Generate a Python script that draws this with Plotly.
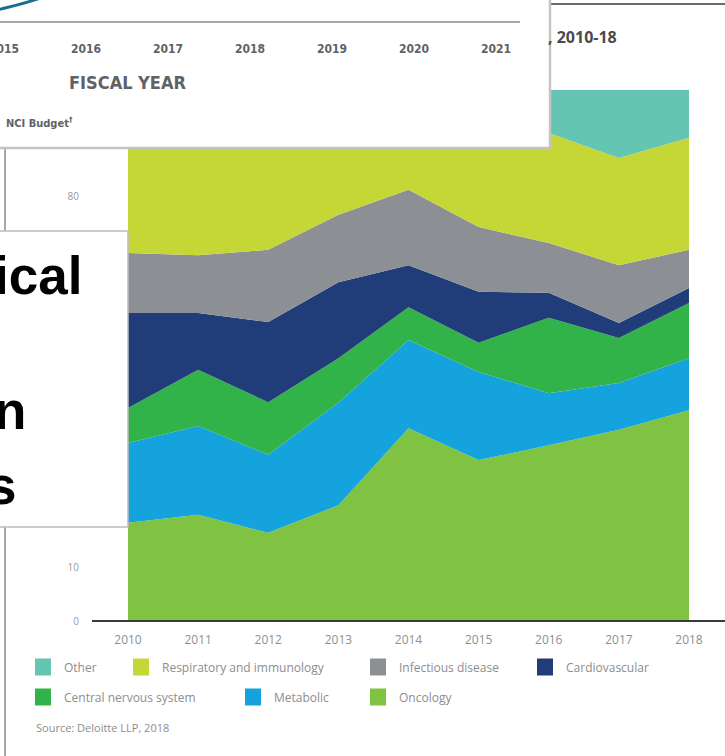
import plotly.graph_objects as go

W, H = 725, 756

years = [2010, 2011, 2012, 2013, 2014, 2015, 2016, 2017, 2018]
series_names = ["Oncology", "Metabolic", "Central nervous system", "Cardiovascular",
                "Infectious disease", "Respiratory and immunology", "Other"]
series_colors = ["#80c242", "#14a3dc", "#32b34a", "#203d79", "#8c8f93", "#c5d737", "#63c5b2"]
oncology = [18.5, 20.0, 16.6, 21.8, 36.3, 30.3, 33.1, 36.0, 39.7]
metabolic = [15.0, 16.7, 14.7, 19.3, 16.6, 16.6, 9.8, 8.8, 9.8]
cns = [6.6, 10.6, 9.9, 8.4, 6.2, 5.5, 14.2, 8.5, 10.4]
cardiovascular = [17.9, 10.7, 15.1, 14.3, 7.9, 9.6, 4.7, 2.8, 2.8]
infectious = [11.3, 10.9, 13.6, 12.7, 14.2, 12.2, 9.4, 10.9, 7.2]
respiratory = [22.7, 23.6, 22.1, 16.5, 11.3, 17.8, 20.7, 20.2, 21.1]
other = [8.0, 7.5, 8.0, 7.0, 7.5, 8.0, 8.1, 12.8, 9.0]
series_values = [oncology, metabolic, cns, cardiovascular, infectious, respiratory, other]

# legend order as in the picture
legend_rows = [["Other", "Respiratory and immunology", "Infectious disease", "Cardiovascular"],
               ["Central nervous system", "Metabolic", "Oncology"]]

# inset (overlapping fiscal-year chart)
fiscal_years = [2015, 2016, 2017, 2018, 2019, 2020, 2021]
nci_years = [2014, 2015, 2016, 2017]
nci_budget = [4.80, 4.91, 5.21, 5.69]

title_tail = ", 2010-18"
source_text = "Source: Deloitte LLP, 2018"
box_lines = ["ical", "n", "s"]

COND = "DejaVu Sans Condensed, Roboto Condensed, Roboto, sans-serif"


def px(x):
    return x / W


def py(y):
    return 1 - y / H


fig = go.Figure()
for name, vals, col in zip(series_names, series_values, series_colors):
    fig.add_trace(go.Scatter(x=years, y=vals, name=name, stackgroup="one", mode="none",
                             fillcolor=col, line=dict(width=0), showlegend=False,
                             xaxis="x", yaxis="y"))

fig.add_trace(go.Scatter(x=nci_years, y=nci_budget, mode="lines", line=dict(color="#1b6f8c", width=3, shape="spline"),
                         showlegend=False, xaxis="x2", yaxis="y2"))

x2_range = [2016 - 86 / 82, 2016 + (550 - 86) / 82]
y2_range = [3.4, 5.0]

shapes = []
# main chart frame lines
shapes.append(dict(type="line", xref="paper", yref="paper", x0=px(5), x1=px(5), y0=py(148), y1=py(756),
                   line=dict(color="#8a8a8a", width=1.5), layer="below"))
shapes.append(dict(type="line", xref="paper", yref="paper", x0=px(550), x1=px(725), y0=py(4), y1=py(4),
                   line=dict(color="#6a6a6a", width=2), layer="below"))
# inset white panel (drawn in inset subplot, above main chart)
shapes.append(dict(type="rect", xref="x2", yref="y2", x0=x2_range[0], x1=x2_range[1], y0=y2_range[0], y1=y2_range[1],
                   fillcolor="white", line=dict(width=0), layer="below"))
# inset borders and axis line
shapes.append(dict(type="line", xref="paper", yref="paper", x0=px(550), x1=px(550), y0=py(0), y1=py(148),
                   line=dict(color="#c4c4c4", width=2.5), layer="above"))
shapes.append(dict(type="line", xref="paper", yref="paper", x0=px(0), x1=px(551), y0=py(148), y1=py(148),
                   line=dict(color="#c4c4c4", width=2.5), layer="above"))
shapes.append(dict(type="line", xref="paper", yref="paper", x0=px(0), x1=px(520), y0=py(22), y1=py(22),
                   line=dict(color="#a8a8a8", width=2), layer="above"))
# text box
shapes.append(dict(type="rect", xref="paper", yref="paper", x0=px(-5), x1=px(128), y0=py(527), y1=py(231),
                   fillcolor="white", line=dict(color="#bdbdbd", width=1.5), layer="above"))
# baseline
shapes.append(dict(type="line", xref="paper", yref="paper", x0=px(92), x1=px(725), y0=py(621), y1=py(621),
                   line=dict(color="#3a3a3a", width=2), layer="above"))

annotations = []
# legend
legend_pos = {
    "Other": (35, 667), "Respiratory and immunology": (133, 667), "Infectious disease": (370, 667),
    "Cardiovascular": (537, 667), "Central nervous system": (35, 697), "Metabolic": (245, 697),
    "Oncology": (370, 697),
}
for row in legend_rows:
    for name in row:
        col = series_colors[series_names.index(name)]
        x0, yc = legend_pos[name]
        shapes.append(dict(type="rect", xref="paper", yref="paper", x0=px(x0), x1=px(x0 + 16),
                           y0=py(yc + 8.5), y1=py(yc - 8.5), fillcolor=col, line=dict(width=0), layer="above"))
        annotations.append(dict(text=name, xref="paper", yref="paper", x=px(x0 + 27), y=py(yc),
                                xanchor="left", yanchor="middle", showarrow=False,
                                font=dict(family="Open Sans", size=12, color="#8d8d8d")))

annotations.append(dict(text=source_text, xref="paper", yref="paper", x=px(34), y=py(727),
                        xanchor="left", yanchor="middle", showarrow=False,
                        font=dict(family="Open Sans", size=11, color="#8d8d8d")))
annotations.append(dict(text=title_tail, xref="paper", yref="paper", x=px(546), y=py(37),
                        xanchor="left", yanchor="middle", showarrow=False,
                        font=dict(family="Open Sans", size=16, color="#4a4a4a", weight="bold")))
# inset texts
annotations.append(dict(text="FISCAL YEAR", xref="paper", yref="paper", x=px(128), y=py(83),
                        xanchor="center", yanchor="middle", showarrow=False,
                        font=dict(family=COND, size=18, color="#5f6266", weight="bold")))
annotations.append(dict(text="NCI Budget<sup>†</sup>", xref="paper", yref="paper", x=px(4), y=py(123),
                        xanchor="left", yanchor="middle", showarrow=False,
                        font=dict(family=COND, size=11, color="#5f6266", weight="bold")))
# box text
box_pos = [(83.5, 275), (27.5, 410), (17.5, 485)]
for t, (bx, by) in zip(box_lines, box_pos):
    annotations.append(dict(text=t, xref="paper", yref="paper", x=px(bx), y=py(by),
                            xanchor="right", yanchor="middle", showarrow=False,
                            font=dict(family="Liberation Sans", size=53, color="black", weight="bold")))

fig.update_layout(
    width=W, height=H, margin=dict(l=0, r=0, t=0, b=0, autoexpand=False),
    paper_bgcolor="white", plot_bgcolor="rgba(0,0,0,0)",
    xaxis=dict(domain=[px(128), px(689)], range=[2010, 2018], tickmode="array", tickvals=years,
               ticktext=[str(y) for y in years], showgrid=False, zeroline=False, showline=False,
               ticks="", ticklabelstandoff=10, tickfont=dict(family="Open Sans", size=12, color="#8f8f8f"),
               anchor="y", fixedrange=True, automargin=False),
    yaxis=dict(domain=[py(621), py(90)], range=[0, 100], tickmode="linear", tick0=0, dtick=10,
               showgrid=False, zeroline=False, showline=False, ticks="", ticklabelstandoff=48,
               tickfont=dict(family="Open Sans", size=10, color="#9a9a9a"), anchor="x", fixedrange=True,
               automargin=False),
    xaxis2=dict(domain=[0, px(550)], range=x2_range, tickmode="array", tickvals=fiscal_years,
                ticktext=[str(y) for y in fiscal_years], showgrid=False, zeroline=False, showline=False,
                ticks="", anchor="free", position=py(22), side="bottom", ticklabelstandoff=18,
                ticklabeloverflow="allow",
                tickfont=dict(family=COND, size=12, color="#5f6266", weight="bold"),
                fixedrange=True, automargin=False),
    yaxis2=dict(domain=[py(148), 1], range=y2_range, showgrid=False, zeroline=False, showline=False,
                showticklabels=False, ticks="", anchor="x2", fixedrange=True, automargin=False),
    shapes=shapes, annotations=annotations, showlegend=False,
)

fig.write_html("out.html", config={"displayModeBar": False},
               post_script="document.body.style.margin='0';document.body.style.overflow='hidden';")
